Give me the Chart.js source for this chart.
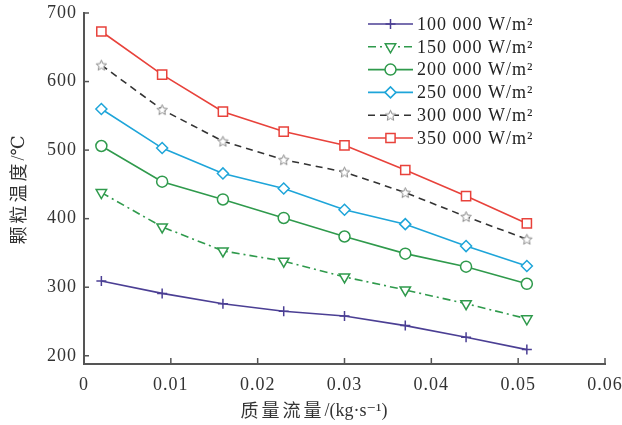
<!DOCTYPE html>
<html><head><meta charset="utf-8">
<script src="https://cdn.jsdelivr.net/npm/chart.js@4/dist/chart.umd.min.js"></script>
<style>html,body{margin:0;padding:0;background:#fff}#wrap{width:622px;height:425px}</style>
</head><body><div id="wrap"><canvas id="c" width="622" height="425"></canvas></div>
<script>
// ---- data ----
const massFlow = [0.002, 0.009, 0.016, 0.023, 0.030, 0.037, 0.044, 0.051];
const seriesNames = ['100 000 W/m²', '150 000 W/m²', '200 000 W/m²', '250 000 W/m²', '300 000 W/m²', '350 000 W/m²'];
const temp100k = [309, 291, 276, 265, 258, 244, 227, 209];
const temp150k = [438, 388, 353, 338, 315, 296, 276, 254];
const temp200k = [506, 454, 428, 401, 374, 349, 330, 305];
const temp250k = [560, 503, 466, 444, 413, 392, 360, 331];
const temp300k = [624, 559, 513, 486, 468, 438, 403, 370];
const temp350k = [673, 610, 556, 527, 507, 471, 433, 393];
const xTickValues = [0, 0.01, 0.02, 0.03, 0.04, 0.05, 0.06];
const yTickValues = [200, 300, 400, 500, 600, 700];
const xTitleCJK = '质量流量';
const xTitleUnit = '/(kg·s⁻¹)';
const yTitleCJK = '颗粒温度';
const yTitleUnit = '/℃';

// star marker image
function makeStar(color, size) {
  const c = document.createElement('canvas');
  c.width = size; c.height = size;
  const g = c.getContext('2d');
  const cx = size / 2, cy = size / 2 + 0.5, R = size / 2 - 1, r = R * 0.45;
  g.beginPath();
  for (let i = 0; i < 10; i++) {
    const a = -Math.PI / 2 + i * Math.PI / 5;
    const rr = i % 2 ? r : R;
    const px = cx + rr * Math.cos(a), py = cy + rr * Math.sin(a);
    i ? g.lineTo(px, py) : g.moveTo(px, py);
  }
  g.closePath();
  g.fillStyle = '#fff'; g.fill();
  g.strokeStyle = color; g.lineWidth = 1; g.stroke();
  return c;
}
const starImg = makeStar('#8a8a8a', 13);

const toPts = arr => arr.map((v, i) => ({ x: massFlow[i], y: v }));
const styles = [
  { color: '#4b3f94', dash: [], pointStyle: 'cross', radius: 5, rot: 0, pcolor: '#4b3f94' },
  { color: '#2f9a4c', dash: [8, 4, 2, 4], pointStyle: 'triangle', radius: 6, rot: 180, pcolor: '#2f9a4c' },
  { color: '#2f9a4c', dash: [], pointStyle: 'circle', radius: 5.5, rot: 0, pcolor: '#2f9a4c' },
  { color: '#1ea5d9', dash: [], pointStyle: 'rectRot', radius: 5.5, rot: 0, pcolor: '#1ea5d9' },
  { color: '#333333', dash: [7, 5], pointStyle: starImg, radius: 6, rot: 0, pcolor: '#8a8a8a' },
  { color: '#e8423b', dash: [], pointStyle: 'rect', radius: 6.5, rot: 0, pcolor: '#e8423b' },
];
const allSeries = [temp100k, temp150k, temp200k, temp250k, temp300k, temp350k];
const datasets = allSeries.map((arr, i) => ({
  label: seriesNames[i],
  data: toPts(arr),
  borderColor: styles[i].color,
  borderWidth: 1.6,
  borderDash: styles[i].dash,
  pointStyle: styles[i].pointStyle,
  pointRadius: styles[i].radius,
  pointRotation: styles[i].rot,
  pointBorderColor: styles[i].pcolor,
  pointBackgroundColor: '#fff',
  pointBorderWidth: 1.5,
  tension: 0,
  clip: false
}));

const SERIF = "'Liberation Serif', 'DejaVu Serif', serif";

const deco = {
  id: 'deco',
  beforeDraw(chart) { chart.ctx.letterSpacing = '1px'; },
  afterDraw(chart) {
    const ctx = chart.ctx;
    const xs = chart.scales.x, ys = chart.scales.y, ca = chart.chartArea;
    ctx.save();
    // inward tick marks
    ctx.strokeStyle = '#555'; ctx.lineWidth = 1.5; ctx.setLineDash([]);
    yTickValues.forEach(v => {
      const y = ys.getPixelForValue(v);
      ctx.beginPath(); ctx.moveTo(ca.left, y); ctx.lineTo(ca.left + 5, y); ctx.stroke();
    });
    xTickValues.forEach(v => {
      const x = xs.getPixelForValue(v);
      ctx.beginPath(); ctx.moveTo(x, ca.bottom); ctx.lineTo(x, ca.bottom - 6); ctx.stroke();
    });
    // legend
    const lx0 = 368, lx1 = 413, ty0 = 24, dy = 22.8;
    chart.data.datasets.forEach((ds, i) => {
      const y = ty0 + i * dy;
      ctx.strokeStyle = ds.borderColor; ctx.lineWidth = ds.borderWidth;
      ctx.setLineDash(ds.borderDash);
      ctx.beginPath(); ctx.moveTo(lx0, y); ctx.lineTo(lx1, y); ctx.stroke();
      ctx.setLineDash([]);
      ctx.strokeStyle = ds.pointBorderColor; ctx.fillStyle = '#fff'; ctx.lineWidth = 1.5;
      Chart.helpers.drawPoint(ctx, {
        pointStyle: ds.pointStyle, radius: ds.pointRadius, rotation: ds.pointRotation, borderWidth: 1.5
      }, (lx0 + lx1) / 2, y);
      ctx.fillStyle = '#222';
      ctx.font = '18px ' + SERIF;
      ctx.textAlign = 'left'; ctx.textBaseline = 'middle';
      ctx.fillText(ds.label, 417, y + 1);
    });
    // axis titles
    ctx.fillStyle = '#333';
    ctx.textBaseline = 'middle';
    const cjkFont = "18px 'Noto Sans CJK SC', sans-serif";
    const latFont = '18px ' + SERIF;
    // x title
    ctx.letterSpacing = '3px'; ctx.font = cjkFont;
    const w1 = ctx.measureText(xTitleCJK).width;
    ctx.letterSpacing = '0px'; ctx.font = latFont;
    const w2 = ctx.measureText(xTitleUnit).width;
    let sx = 314 - (w1 + w2) / 2;
    ctx.textAlign = 'left';
    ctx.letterSpacing = '3px'; ctx.font = cjkFont;
    ctx.fillText(xTitleCJK, sx, 410);
    ctx.letterSpacing = '0px'; ctx.font = latFont;
    ctx.fillText(xTitleUnit, sx + w1, 411);
    // y title
    ctx.translate(18, 190); ctx.rotate(-Math.PI / 2);
    ctx.letterSpacing = '3px'; ctx.font = cjkFont;
    const v1 = ctx.measureText(yTitleCJK).width;
    ctx.letterSpacing = '0px'; ctx.font = latFont;
    const v2 = ctx.measureText(yTitleUnit).width;
    sx = -(v1 + v2) / 2;
    ctx.letterSpacing = '3px'; ctx.font = cjkFont;
    ctx.fillText(yTitleCJK, sx, 0);
    ctx.letterSpacing = '0px'; ctx.font = latFont;
    ctx.fillText(yTitleUnit, sx + v1, 1);
    ctx.restore();
    ctx.letterSpacing = '0px';
  }
};

new Chart(document.getElementById('c'), {
  type: 'line',
  data: { datasets },
  options: {
    responsive: false, animation: false,
    layout: { padding: { top: 13, right: 17, left: 0, bottom: 0 } },
    plugins: { legend: { display: false }, tooltip: { enabled: false } },
    scales: {
      x: {
        type: 'linear', min: 0, max: 0.06,
        afterBuildTicks: s => { s.ticks = xTickValues.map(v => ({ value: v })); },
        afterFit: s => { s.height = 61; s.paddingLeft = 0; s.paddingRight = 0; },
        grid: { display: false, drawTicks: false },
        border: { display: true, color: '#555', width: 2 },
        ticks: { color: '#333', padding: 10, font: { family: SERIF, size: 18 },
          callback: v => v === 0 ? '0' : Number(v).toFixed(2), maxRotation: 0, autoSkip: false }
      },
      y: {
        min: 188, max: 700,
        afterBuildTicks: s => { s.ticks = yTickValues.map(v => ({ value: v })); },
        afterFit: s => { s.width = 84; s.paddingTop = 0; s.paddingBottom = 0; },
        grid: { display: false, drawTicks: false },
        border: { display: true, color: '#555', width: 2 },
        ticks: { color: '#333', padding: 7, font: { family: SERIF, size: 18 }, autoSkip: false }
      }
    }
  },
  plugins: [deco]
});
</script>
</body></html>
